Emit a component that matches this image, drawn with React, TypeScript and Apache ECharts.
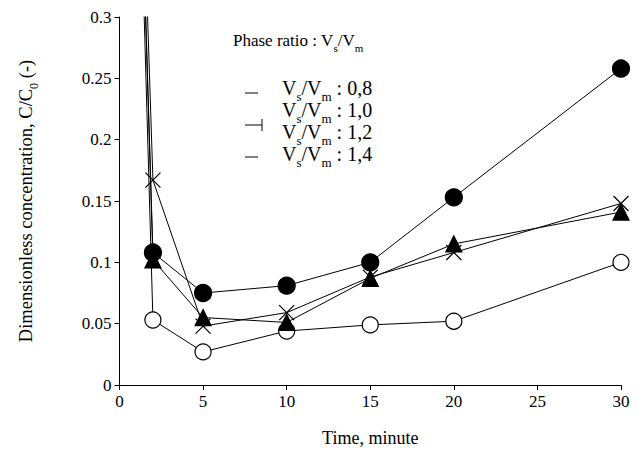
import React, { useEffect, useRef } from "react";
import * as echarts from "echarts";

const times = [0, 2, 5, 10, 15, 20, 30];
const s08 = [1, 0.053, 0.027, 0.044, 0.049, 0.052, 0.100];
const s10 = [1, 0.108, 0.075, 0.081, 0.100, 0.153, 0.258];
const s12 = [1, 0.167, 0.048, 0.059, 0.088, 0.108, 0.148];
const s14 = [1, 0.102, 0.055, 0.051, 0.087, 0.115, 0.141];
const legendLabels = ["0,8", "1,0", "1,2", "1,4"];

const F = "Liberation Serif, Times New Roman, serif";
const rich = {
  n: { fontFamily: F, fontSize: 18.5, color: "#000", fontStyle: "normal" },
  s: { fontFamily: F, fontSize: 12, color: "#000", fontStyle: "normal", verticalAlign: "bottom", lineHeight: 28 },
};
const richL = {
  n: { fontFamily: F, fontSize: 20, color: "#000" },
  s: { fontFamily: F, fontSize: 13, color: "#000", verticalAlign: "bottom", lineHeight: 30 },
};

export default function App() {
  const ref = useRef<HTMLDivElement>(null);
  useEffect(() => {
    const chart = echarts.init(ref.current!, null, { renderer: "svg" });
    const mk = (d: number[], symbol: string, fill: string, size: number) => ({
      type: "line",
      data: times.map((t, i) => [t, d[i]]),
      symbol,
      symbolSize: size,
      showAllSymbol: true,
      clip: true,
      lineStyle: { color: "#000", width: 1 },
      itemStyle: { color: fill, borderColor: "#000", borderWidth: 1.2 },
    });
    const legendY = [85, 107, 129, 151];
    chart.setOption({
      animation: false,
      grid: { left: 109, right: 15, top: 9, bottom: 68 },
      xAxis: {
        type: "value", min: 0, max: 30, interval: 5,
        name: "Time, minute", nameLocation: "middle", nameGap: 44,
        nameTextStyle: { fontFamily: F, fontSize: 18, color: "#000" },
        axisLine: { lineStyle: { color: "#000" } },
        axisTick: { lineStyle: { color: "#000" } },
        axisLabel: { fontFamily: F, fontSize: 17, color: "#000" },
        splitLine: { show: false },
      },
      yAxis: {
        type: "value", min: 0, max: 0.3, interval: 0.05,
        name: "{n|Dimensionless concentration, C/C}{s|0}{n| (-)}",
        nameLocation: "middle", nameGap: 80, nameRotate: 90,
        nameTextStyle: { rich, fontStyle: "normal" },
        axisLine: { show: true, lineStyle: { color: "#000" } },
        axisTick: { show: true, lineStyle: { color: "#000" } },
        axisLabel: { fontFamily: F, fontSize: 17, color: "#000", formatter: (v: number) => String(+v.toFixed(2)) },
        splitLine: { show: false },
      },
      series: [
        mk(s08, "circle", "#fff", 16),
        mk(s10, "circle", "#000", 17),
        mk(s12, "path://M0,0L10,10M10,0L0,10", "none", 15),
        mk(s14, "triangle", "#000", 16),
      ],
      graphic: [
        { type: "text", left: 225, top: 24, style: { text: "{n|Phase ratio : V}{s|s}{n|/V}{s|m}", rich: { n: { ...richL.n, fontSize: 17 }, s: { ...richL.s, fontSize: 11, lineHeight: 26 } } } },
        ...legendLabels.map((l, i) => ({
          type: "text", left: 274, top: legendY[i] - 15,
          style: { text: `{n|V}{s|s}{n|/V}{s|m}{n| : ${l}}`, rich: richL },
        })),
        { type: "line", shape: { x1: 237, y1: 85, x2: 250, y2: 85 }, style: { stroke: "#000", lineWidth: 1 } },
        { type: "line", shape: { x1: 237, y1: 117, x2: 254, y2: 117 }, style: { stroke: "#000", lineWidth: 1 } },
        { type: "line", shape: { x1: 254, y1: 111, x2: 254, y2: 123 }, style: { stroke: "#000", lineWidth: 1 } },
        { type: "line", shape: { x1: 237, y1: 149, x2: 250, y2: 149 }, style: { stroke: "#000", lineWidth: 1 } },
      ],
    });
    return () => chart.dispose();
  }, []);
  return <div ref={ref} style={{ width: 628, height: 445 }} />;
}
